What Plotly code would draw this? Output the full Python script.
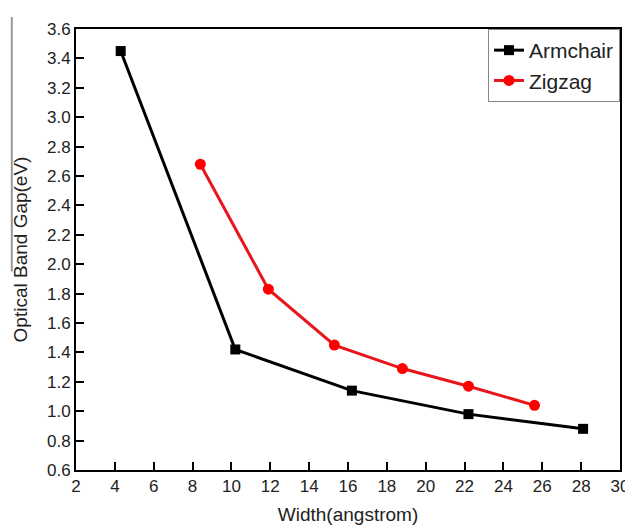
import plotly.graph_objects as go

arm_x = [4.3, 10.2, 16.2, 22.2, 28.1]
arm_y = [3.45, 1.42, 1.14, 0.98, 0.88]
zig_x = [8.4, 11.9, 15.3, 18.8, 22.2, 25.6]
zig_y = [2.68, 1.83, 1.45, 1.29, 1.17, 1.04]

fig = go.Figure()
fig.add_trace(go.Scatter(x=arm_x, y=arm_y, mode="lines+markers", name="Armchair",
                         line=dict(color="black", width=3),
                         marker=dict(symbol="square", size=10, color="black")))
fig.add_trace(go.Scatter(x=zig_x, y=zig_y, mode="lines+markers", name="Zigzag",
                         line=dict(color="#e8161b", width=3),
                         marker=dict(symbol="circle", size=11, color="#ff0000")))

fig.update_layout(
    width=633, height=528,
    margin=dict(l=66, r=16, t=14, b=66),
    paper_bgcolor="white", plot_bgcolor="white",
    font=dict(family="Liberation Sans, Arial", size=17, color="#222"),
    legend=dict(x=1, y=1, xanchor="right", yanchor="top",
                bordercolor="#888", borderwidth=1, bgcolor="white",
                font=dict(size=21, color="#222"), tracegroupgap=0),
    showlegend=True,
)
fig.update_xaxes(range=[2, 30], dtick=2, tick0=2, ticks="inside", ticklen=8,
                 tickwidth=1.5, tickcolor="black", showline=True, linecolor="black",
                 linewidth=2, mirror=True, showgrid=False, zeroline=False,
                 tickfont=dict(size=17),
                 title=dict(text="Width(angstrom)", font=dict(size=19), standoff=12))
fig.update_yaxes(range=[0.6, 3.6], dtick=0.2, tick0=0.6, tickformat=".1f",
                 ticks="inside", ticklen=8, tickwidth=1.5, tickcolor="black",
                 showline=True, linecolor="black", linewidth=2, mirror=True,
                 showgrid=False, zeroline=False, tickfont=dict(size=17),
                 title=dict(text="Optical Band Gap(eV)", font=dict(size=19), standoff=14))
fig.add_shape(type="line", xref="paper", yref="paper", x0=-0.118, x1=-0.118,
              y0=0.45, y1=1.027, line=dict(color="#999", width=2))
fig.write_html("out.html")
